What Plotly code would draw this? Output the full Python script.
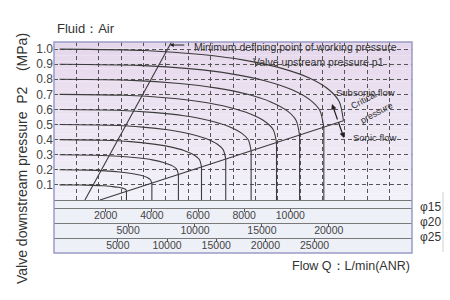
import plotly.graph_objects as go

# ---------------- data ----------------
p1_values = [0.1, 0.2, 0.3, 0.4, 0.5, 0.6, 0.7, 0.8, 0.9, 1.0]
sonic_flow = [2900, 4000, 5150, 6150, 7200, 8300, 9400, 10400, 11450, 12300]
critical_p2 = [0.06, 0.11, 0.17, 0.22, 0.27, 0.325, 0.38, 0.43, 0.48, 0.525]

curve_q = [
    [0, 870, 1450, 1885, 2262, 2552, 2755, 2857, 2900],
    [0, 1200, 2000, 2600, 3120, 3520, 3800, 3940, 4000],
    [0, 1545, 2575, 3348, 4017, 4532, 4893, 5073, 5150],
    [0, 1845, 3075, 3998, 4797, 5412, 5843, 6058, 6150],
    [0, 2160, 3600, 4680, 5616, 6336, 6840, 7092, 7200],
    [0, 2490, 4150, 5395, 6474, 7304, 7885, 8176, 8300],
    [0, 2820, 4700, 6110, 7332, 8272, 8930, 9259, 9400],
    [0, 3120, 5200, 6760, 8112, 9152, 9880, 10244, 10400],
    [0, 3435, 5725, 7443, 8931, 10076, 10878, 11278, 11450],
    [0, 3690, 6150, 7995, 9594, 10824, 11685, 12116, 12300],
]
curve_p2 = [
    [0.1, 0.099, 0.097, 0.094, 0.089, 0.084, 0.077, 0.071, 0.06],
    [0.2, 0.198, 0.193, 0.186, 0.176, 0.164, 0.149, 0.134, 0.11],
    [0.3, 0.297, 0.29, 0.28, 0.266, 0.247, 0.226, 0.205, 0.17],
    [0.4, 0.396, 0.387, 0.372, 0.352, 0.327, 0.297, 0.268, 0.22],
    [0.5, 0.495, 0.483, 0.465, 0.439, 0.407, 0.369, 0.332, 0.27],
    [0.6, 0.595, 0.579, 0.558, 0.527, 0.489, 0.443, 0.399, 0.325],
    [0.7, 0.694, 0.676, 0.651, 0.615, 0.57, 0.517, 0.466, 0.38],
    [0.8, 0.793, 0.772, 0.743, 0.702, 0.65, 0.589, 0.529, 0.43],
    [0.9, 0.892, 0.869, 0.836, 0.789, 0.73, 0.66, 0.593, 0.48],
    [1.0, 0.991, 0.964, 0.927, 0.874, 0.808, 0.729, 0.652, 0.525],
]

critical_q = [1750, 12300]
critical_line_p2 = [0.0, 0.525]
min_point_q = [1100, 4850]
min_point_p2 = [0.0, 1.047]

y_ticks = [0.1, 0.2, 0.3, 0.4, 0.5, 0.6, 0.7, 0.8, 0.9, 1.0]
y_ticktext = ["0.1", "0.2", "0.3", "0.4", "0.5", "0.6", "0.7", "0.8", "0.9", "1.0"]
phi15_ticks = [2000, 4000, 6000, 8000, 10000]
phi20_ticks = [5000, 10000, 15000, 20000]
phi25_ticks = [5000, 10000, 15000, 20000, 25000]
port_labels = ["φ15", "φ20", "φ25"]

# ---------------- figure ----------------
FONT = "Liberation Sans, Arial, sans-serif"
LINE_C = "#3c3c3c"
fig = go.Figure()

# empty trace so the grid subplot exists
fig.add_trace(go.Scatter(x=[], y=[], xaxis="x", yaxis="y", showlegend=False))

for q, p in zip(curve_q, curve_p2):
    fig.add_trace(go.Scatter(x=q, y=p, xaxis="x2", yaxis="y", mode="lines",
                             line=dict(color=LINE_C, width=1.1, shape="spline", smoothing=0.8),
                             hoverinfo="skip", showlegend=False))

vx, vy = [], []
for q, pc, p1 in zip(sonic_flow, critical_p2, p1_values):
    if p1 >= 1.0:
        continue
    vx += [q, q, None]
    vy += [pc, 0, None]
fig.add_trace(go.Scatter(x=vx, y=vy, xaxis="x2", yaxis="y", mode="lines",
                         line=dict(color=LINE_C, width=1.1), hoverinfo="skip", showlegend=False))

fig.add_trace(go.Scatter(x=critical_q, y=critical_line_p2, xaxis="x2", yaxis="y", mode="lines",
                         line=dict(color=LINE_C, width=1.1), hoverinfo="skip", showlegend=False))
fig.add_trace(go.Scatter(x=min_point_q, y=min_point_p2, xaxis="x2", yaxis="y", mode="lines",
                         line=dict(color=LINE_C, width=1.1), hoverinfo="skip", showlegend=False))
fig.add_trace(go.Scatter(x=[], y=[], xaxis="x3", yaxis="y", showlegend=False))
fig.add_trace(go.Scatter(x=[], y=[], xaxis="x4", yaxis="y", showlegend=False))

# geometry of the paper (plot area 54..412 x 42..253 px)
def py(pix):
    return (253 - pix) / 211.0

def px(pix):
    return (pix - 54) / 358.0

Y_DOM0 = py(200)
shapes = []
top = (230, 216, 236)
bot = (242, 241, 249)
N = 24
for i in range(N):
    f = i / (N - 1)
    c = tuple(round(bot[k] + (top[k] - bot[k]) * f) for k in range(3))
    shapes.append(dict(type="rect", xref="paper", yref="paper", x0=0, x1=1,
                       y0=Y_DOM0 + (1 - Y_DOM0) * i / N, y1=Y_DOM0 + (1 - Y_DOM0) * (i + 1) / N,
                       fillcolor="rgb(%d,%d,%d)" % c, line=dict(width=0), layer="below"))
shapes.append(dict(type="rect", xref="paper", yref="paper", x0=0, x1=1, y0=0, y1=Y_DOM0,
                   fillcolor="#eef0f8", line=dict(width=0), layer="below"))
shapes.append(dict(type="rect", xref="paper", yref="paper", x0=0, x1=1, y0=0, y1=1,
                   fillcolor="rgba(0,0,0,0)", line=dict(color="#9a9ac6", width=1.5), layer="above"))
shapes.append(dict(type="line", xref="paper", yref="paper", x0=px(443), x1=px(443), y0=py(192), y1=py(252),
                   line=dict(color="#d0d0d0", width=1)))

band_axis = dict(overlaying="x", anchor="free", showgrid=False, zeroline=False,
                 showline=True, linecolor="#7a7a7a", linewidth=1,
                 ticks="outside", ticklen=3, tickcolor="#555", tickformat="d",
                 ticklabelstandoff=-6,
                 tickfont=dict(family=FONT, size=10.5, color="#444"), fixedrange=True)

fig.update_layout(
    width=450, height=300,
    margin=dict(l=54, r=38, t=42, b=47),
    paper_bgcolor="white", plot_bgcolor="rgba(0,0,0,0)",
    font=dict(family=FONT, color="#333"),
    showlegend=False,
    shapes=shapes,
    xaxis=dict(range=[0, 16], dtick=1, tick0=0, showticklabels=False, ticks="",
               showgrid=True, griddash="4px,3px", gridcolor="#555", gridwidth=1,
               zeroline=False, showline=True, linecolor="#777", linewidth=1, fixedrange=True),
    xaxis2=dict(band_axis, range=[-240, 15270], tickvals=phi15_ticks, position=py(208)),
    xaxis3=dict(band_axis, range=[-538, 26221], tickvals=phi20_ticks, position=py(223)),
    xaxis4=dict(band_axis, range=[-1484, 34898], tickvals=phi25_ticks, position=py(238)),
    yaxis=dict(domain=[Y_DOM0, 1], range=[0, 1.047], tickvals=y_ticks, ticktext=y_ticktext,
               showgrid=True, griddash="4px,3px", gridcolor="#555", gridwidth=1,
               zeroline=False, showline=False, ticks="",
               tickfont=dict(family=FONT, size=12, color="#444"), fixedrange=True),
)

ann = []
ann.append(dict(text="Fluid：Air", xref="paper", yref="paper", x=px(55), y=py(29),
                xanchor="left", yanchor="middle", showarrow=False,
                font=dict(family=FONT, size=13, color="#333")))
ann.append(dict(text="Minimum defining point of working pressure", xref="paper", yref="paper",
                x=px(399), y=py(47), xanchor="right", yanchor="middle", showarrow=False,
                font=dict(family=FONT, size=10.5, color="#333")))
ann.append(dict(text="", xref="x2", yref="y", x=4778, y=1.027, ax=16, ay=0,
                showarrow=True, arrowhead=2, arrowsize=0.8, arrowwidth=1, arrowcolor="#222"))
ann.append(dict(text="Valve upstream pressure p1", xref="paper", yref="paper",
                x=px(386), y=py(62), xanchor="right", yanchor="middle", showarrow=False,
                font=dict(family=FONT, size=10.5, color="#333")))
ann.append(dict(text="Subsonic flow", xref="paper", yref="paper",
                x=px(397), y=py(92), xanchor="right", yanchor="middle", showarrow=False,
                font=dict(family=FONT, size=9.5, color="#333")))
ann.append(dict(text="Sonic flow", xref="paper", yref="paper",
                x=px(398), y=py(137), xanchor="right", yanchor="middle", showarrow=False,
                font=dict(family=FONT, size=9.5, color="#333")))
ann.append(dict(text="Critical", xref="paper", yref="paper", x=px(364), y=py(100),
                xanchor="center", yanchor="middle",
                textangle=-28, showarrow=False, font=dict(family=FONT, size=9, color="#333")))
ann.append(dict(text="pressure", xref="paper", yref="paper", x=px(376), y=py(113),
                xanchor="center", yanchor="middle",
                textangle=-28, showarrow=False, font=dict(family=FONT, size=9, color="#333")))
ann.append(dict(text="", xref="paper", yref="paper", x=px(332), y=py(104), ax=6, ay=17,
                showarrow=True, arrowhead=2, arrowsize=0.9, arrowwidth=1.2, arrowcolor="#222"))
ann.append(dict(text="", xref="paper", yref="paper", x=px(344), y=py(138), ax=-6, ay=-17,
                showarrow=True, arrowhead=2, arrowsize=0.9, arrowwidth=1.2, arrowcolor="#222"))
for lab, yy in zip(port_labels, [207, 222, 237]):
    ann.append(dict(text=lab, xref="paper", yref="paper", x=px(418), y=py(yy),
                    xanchor="left", yanchor="middle", showarrow=False,
                    font=dict(family=FONT, size=12, color="#333")))
ann.append(dict(text="Flow Q：L/min(ANR)", xref="paper", yref="paper", x=1.0, y=py(266),
                xanchor="right", yanchor="middle", showarrow=False,
                font=dict(family=FONT, size=12.5, color="#333")))
ann.append(dict(text="Valve downstream pressure&nbsp;&nbsp;P2&nbsp;&nbsp;&nbsp;&nbsp;(MPa)",
                xref="paper", yref="paper",
                x=px(22), y=py(159), textangle=-90, xanchor="center", yanchor="middle",
                showarrow=False, font=dict(family=FONT, size=14, color="#333")))
fig.update_layout(annotations=ann)

fig.write_html("out.html")
